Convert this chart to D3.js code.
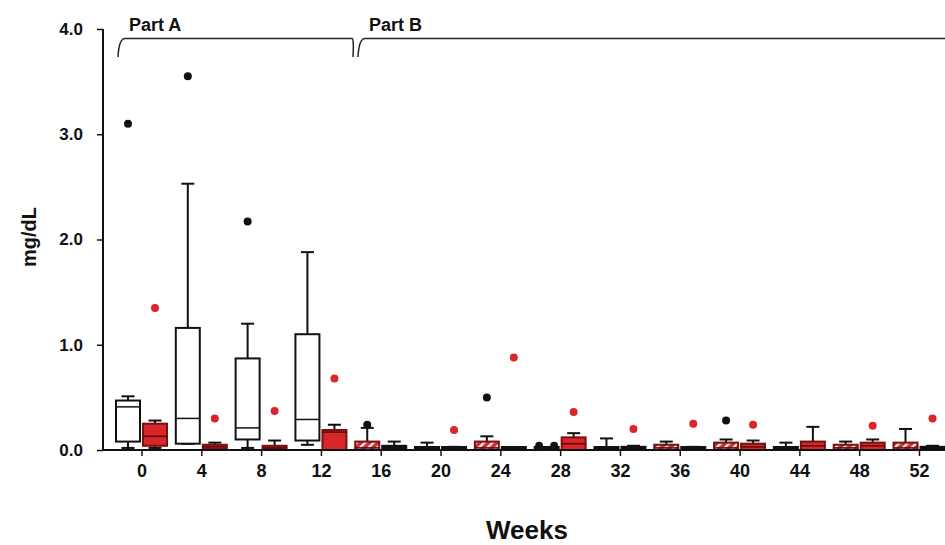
<!DOCTYPE html>
<html>
<head>
<meta charset="utf-8">
<script src="https://cdn.jsdelivr.net/npm/d3@7"></script>
<style>
  body { margin: 0; background: #fff; }
  svg text { font-family: Arial, "Liberation Sans", sans-serif; font-weight: bold; }
</style>
</head>
<body>
<svg id="chart" width="945" height="545"></svg>
<script>
// weeks on the x axis
var weeks = [0,4,8,12,16,20,24,28,32,36,40,44,48,52]
var yTicks = [0,1,2,3,4]

// left box of each pair
var leftStyle = ["white","white","white","white","hatch","black","hatch","black","black","hatch","hatch","black","hatch","hatch"]
var leftLo  = [0.01,0.05,0.01,0.04,0,0,0,0,0,0,0,0,0,0]
var leftQ1  = [0.08,0.06,0.10,0.09,0,0,0,0,0,0,0,0,0,0]
var leftMed = [0.41,0.30,0.21,0.29,0.02,0.01,0.02,0.01,0.01,0.02,0.02,0.01,0.02,0.02]
var leftQ3  = [0.47,1.16,0.87,1.10,0.08,0.02,0.08,0.01,0.02,0.05,0.07,0.02,0.05,0.07]
var leftHi  = [0.51,2.53,1.20,1.88,0.21,0.07,0.13,0.01,0.11,0.08,0.10,0.07,0.08,0.20]
var leftOut = [[3.10],[3.55],[2.17],[],[0.24],[],[0.50],[0.04,0.04],[],[],[0.28],[],[],[]]

// right box of each pair
var rightStyle = ["red","red","red","red","black","black","black","red","black","black","red","red","red","black"]
var rightLo  = [0.01,0.01,0.01,0,0,0,0,0,0,0,0,0,0,0]
var rightQ1  = [0.04,0.01,0.01,0,0,0,0,0,0,0,0,0,0,0]
var rightMed = [0.13,0.03,0.02,0.17,0.02,0.01,0.005,0.06,0.01,0.01,0.03,0.04,0.04,0.01]
var rightQ3  = [0.25,0.05,0.04,0.19,0.04,0.02,0.01,0.12,0.03,0.02,0.06,0.08,0.07,0.03]
var rightHi  = [0.28,0.07,0.09,0.24,0.08,0.03,0.01,0.16,0.04,0.03,0.09,0.22,0.10,0.04]
var rightOut = [[1.35],[0.30],[0.37],[0.68],[],[0.19],[0.88],[0.36],[0.20],[0.25],[0.24],[],[0.23],[0.30]]

var svg = d3.select("#chart")
var x = d3.scaleLinear().domain([0,52]).range([141.5,919])
var y = d3.scaleLinear().domain([0,4]).range([450,29])
var axisLeftX = 103
var boxW = 24, off = 13.5, capW = 13

var fills = {white:"#fff", red:"#d8262a", hatch:"url(#hatch)", black:"#111"}
var strokes = {white:"#111", red:"#7a1010", hatch:"#7a1010", black:"#111"}
var medCol = {white:"#111", red:"#5a0808", hatch:"#5a0808", black:"#111"}

var defs = svg.append("defs")
var pat = defs.append("pattern").attr("id","hatch")
  .attr("patternUnits","userSpaceOnUse").attr("width",6).attr("height",6)
  .attr("patternTransform","rotate(45)")
pat.append("rect").attr("width",6).attr("height",6).attr("fill","#c8303a")
pat.append("rect").attr("width",2.4).attr("height",6).attr("fill","#f6e4e4")

function build(style,lo,q1,med,q3,hi,out,side){
  return weeks.map(function(w,i){
    return {w:w, side:side, style:style[i], lo:lo[i], q1:q1[i], med:med[i], q3:q3[i], hi:hi[i], out:out[i], cx:x(w)+side*off}
  })
}
var boxes = build(leftStyle,leftLo,leftQ1,leftMed,leftQ3,leftHi,leftOut,-1)
  .concat(build(rightStyle,rightLo,rightQ1,rightMed,rightQ3,rightHi,rightOut,1))

var g = svg.append("g")
var b = g.selectAll(".box").data(boxes).enter().append("g").attr("class","box")

// whiskers
b.append("line")
  .attr("x1",d=>d.cx).attr("x2",d=>d.cx)
  .attr("y1",d=>y(d.q3)).attr("y2",d=>y(d.hi))
  .attr("stroke","#111").attr("stroke-width",2)
b.append("line")
  .attr("x1",d=>d.cx-capW/2).attr("x2",d=>d.cx+capW/2)
  .attr("y1",d=>y(d.hi)).attr("y2",d=>y(d.hi))
  .attr("stroke","#111").attr("stroke-width",2)
b.append("line")
  .attr("x1",d=>d.cx).attr("x2",d=>d.cx)
  .attr("y1",d=>y(d.q1)).attr("y2",d=>y(d.lo))
  .attr("stroke","#111").attr("stroke-width",2)
b.append("line")
  .attr("x1",d=>d.cx-capW/2).attr("x2",d=>d.cx+capW/2)
  .attr("y1",d=>y(d.lo)-1).attr("y2",d=>y(d.lo)-1)
  .attr("stroke","#111").attr("stroke-width",2)

// box body
b.append("rect")
  .attr("x",d=>d.cx-boxW/2).attr("width",boxW)
  .attr("y",d=>Math.min(y(d.q3),y(d.q1)-3)).attr("height",d=>Math.max(y(d.q1)-y(d.q3),3))
  .attr("fill",d=>fills[d.style]).attr("stroke",d=>strokes[d.style]).attr("stroke-width",2)
b.append("line")
  .attr("x1",d=>d.cx-boxW/2).attr("x2",d=>d.cx+boxW/2)
  .attr("y1",d=>y(d.med)).attr("y2",d=>y(d.med))
  .attr("stroke",d=>medCol[d.style]).attr("stroke-width",1.5)

// outliers: left group black, right group red
b.each(function(d){
  var n = d.out.length
  d3.select(this).selectAll("circle").data(d.out).enter().append("circle")
    .attr("cx",(v,k)=>d.cx + (n>1 ? (k-(n-1)/2)*15 : 0))
    .attr("cy",v=>y(v))
    .attr("r",4)
    .attr("fill",d.side < 0 ? "#111" : "#d8262a")
})

// x axis
svg.append("line").attr("x1",axisLeftX).attr("x2",945).attr("y1",y(0)).attr("y2",y(0))
  .attr("stroke","#111").attr("stroke-width",2)
var xa = svg.append("g").attr("transform","translate(0,"+y(0)+")")
  .call(d3.axisBottom(x).tickValues(weeks).tickSize(6).tickPadding(8).tickFormat(d3.format("d")))
xa.select(".domain").remove()
xa.selectAll("line").attr("stroke","#111").attr("stroke-width",1.5)
xa.selectAll("text").attr("font-size",18).attr("fill","#111")

// y axis
var ya = svg.append("g").attr("transform","translate("+axisLeftX+",0)")
  .call(d3.axisLeft(y).tickValues(yTicks).tickSize(6).tickPadding(14).tickFormat(d3.format(".1f")))
ya.select(".domain").attr("stroke","#111").attr("stroke-width",2).attr("d","M0,"+y(4)+"V"+y(0))
ya.selectAll("line").attr("stroke","#111").attr("stroke-width",1.5)
ya.selectAll("text").attr("font-size",17).attr("fill","#111")

// axis titles
svg.append("text").attr("x",527).attr("y",539).attr("text-anchor","middle")
  .attr("font-size",26).attr("fill","#111").text("Weeks")
svg.append("text").attr("transform","translate(36,237) rotate(-90)").attr("text-anchor","middle")
  .attr("font-size",20).attr("fill","#111").text("mg/dL")

// part brackets
function bracket(x0,x1,label){
  var top = 38.5, drop = 57
  var p = d3.path()
  p.moveTo(x0-3,drop)
  p.quadraticCurveTo(x0-2,top,x0+4,top)
  p.lineTo(x1-4,top)
  if (x1 < 940) p.quadraticCurveTo(x1-2,top,x1-3,drop)
  svg.append("path").attr("d",p.toString()).attr("fill","none").attr("stroke","#222").attr("stroke-width",1.5)
  svg.append("text").attr("x",x0+8).attr("y",31).attr("font-size",18).attr("fill","#111").text(label)
}
bracket(121,356,"Part A")
bracket(361,950,"Part B")
</script>
</body>
</html>
